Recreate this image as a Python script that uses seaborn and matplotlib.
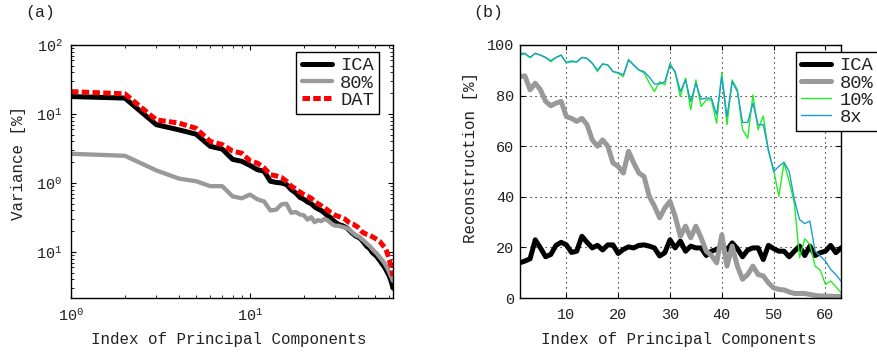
import numpy as np
import pandas as pd
import matplotlib
matplotlib.use("Agg")
import matplotlib.pyplot as plt
import seaborn as sns

# ---------------- data ----------------
component_index = list(range(1, 64))

# panel (a): variance [%] per principal component
var_ica = [17.9, 17.0, 7.0, 5.9, 5.1, 3.4, 3.1, 2.2, 2.06, 1.8,
           1.56, 1.48, 1.06, 1.02, 1.0, 0.95, 0.80, 0.72, 0.62, 0.58,
           0.53, 0.50, 0.45, 0.42, 0.40, 0.37, 0.34, 0.32, 0.29, 0.27,
           0.255, 0.245, 0.24, 0.23, 0.22, 0.205, 0.19, 0.18, 0.17, 0.165,
           0.16, 0.15, 0.14, 0.13, 0.12, 0.115, 0.11, 0.10, 0.095, 0.091,
           0.087, 0.081, 0.076, 0.071, 0.066, 0.062, 0.058, 0.053, 0.049, 0.045,
           0.040, 0.035, 0.030]
var_80 = [2.65, 2.48, 1.52, 1.16, 1.06, 0.90, 0.90, 0.64, 0.60, 0.68,
          0.58, 0.54, 0.40, 0.41, 0.49, 0.50, 0.37, 0.38, 0.35, 0.34,
          0.295, 0.32, 0.27, 0.29, 0.28, 0.30, 0.29, 0.27, 0.25, 0.24,
          0.24, 0.235, 0.23, 0.225, 0.22, 0.21, 0.195, 0.185, 0.175, 0.17,
          0.165, 0.155, 0.148, 0.14, 0.132, 0.126, 0.12, 0.112, 0.106, 0.10,
          0.096, 0.09, 0.085, 0.08, 0.075, 0.071, 0.066, 0.061, 0.056, 0.051,
          0.046, 0.042, 0.038]
var_dat = [21.1, 19.6, 8.2, 7.4, 6.2, 4.0, 3.6, 2.9, 2.7, 2.1,
           1.94, 1.65, 1.32, 1.27, 1.2, 1.06, 0.90, 0.82, 0.74, 0.68,
           0.64, 0.60, 0.54, 0.50, 0.47, 0.44, 0.41, 0.38, 0.36, 0.34,
           0.33, 0.32, 0.31, 0.30, 0.28, 0.265, 0.255, 0.25, 0.24, 0.23,
           0.215, 0.20, 0.19, 0.185, 0.18, 0.177, 0.173, 0.168, 0.163, 0.158,
           0.153, 0.148, 0.143, 0.135, 0.127, 0.12, 0.114, 0.103, 0.09, 0.077,
           0.066, 0.055, 0.045]

# panel (b): reconstruction [%]
rec_ica = [13.9, 14.6, 15.5, 23.0, 19.8, 16.3, 17.2, 20.8, 22.0, 21.0,
           18.0, 18.5, 24.4, 22.0, 19.8, 20.8, 19.0, 21.0, 21.0, 17.6,
           19.2, 20.2, 19.8, 20.8, 21.0, 20.5, 19.8, 16.6, 17.9, 23.0,
           19.8, 22.5, 18.5, 20.5, 19.8, 19.8, 16.8, 18.5, 19.2, 20.5,
           19.0, 21.8, 19.5, 16.3, 19.0, 19.8, 19.8, 15.2, 20.8, 19.5,
           18.5, 18.5, 16.3, 18.5, 20.5, 16.8, 20.5, 16.8, 17.9, 18.5,
           20.8, 17.9, 19.8]
rec_80 = [87.5, 87.8, 82.3, 84.9, 82.3, 77.7, 76.0, 77.0, 77.7, 71.7,
          71.0, 69.8, 71.0, 68.5, 62.5, 60.0, 62.5, 60.0, 53.4, 52.0,
          49.4, 58.0, 53.4, 49.4, 48.0, 40.2, 36.3, 31.7, 35.6, 38.2,
          32.3, 24.4, 28.4, 23.8, 28.4, 23.8, 18.5, 16.8, 13.9, 25.0,
          12.6, 20.5, 12.6, 7.4, 9.3, 12.6, 9.3, 8.7, 6.0, 4.0,
          3.4, 3.2, 2.4, 1.8, 1.8, 1.8, 1.4, 1.0, 0.8, 0.8,
          0.7, 0.6, 0.6]
rec_10 = [96.0, 96.5, 95.0, 96.7, 96.0, 95.0, 93.4, 95.0, 96.0, 93.0,
          93.8, 93.3, 95.1, 94.7, 92.8, 89.5, 92.5, 92.1, 89.5, 88.8,
          87.5, 94.3, 92.1, 90.1, 89.0, 85.0, 81.6, 85.5, 84.2, 92.8,
          89.0, 79.6, 86.9, 74.4, 86.2, 75.7, 78.3, 78.3, 69.1, 89.1,
          68.5, 86.2, 82.3, 66.5, 63.2, 80.3, 66.5, 72.0, 58.0, 50.7,
          40.2, 53.4, 46.1, 37.6, 15.9, 23.4, 21.2, 12.6, 11.0, 5.4,
          6.7, 4.5, 2.1]
rec_8x = [96.7, 96.7, 95.1, 96.7, 96.0, 95.1, 93.8, 95.1, 96.0, 93.0,
          93.4, 93.3, 95.1, 94.7, 92.8, 90.1, 92.5, 92.1, 89.5, 89.1,
          88.2, 94.0, 92.1, 90.1, 89.5, 87.3, 84.6, 84.6, 85.5, 92.1,
          89.5, 81.6, 86.2, 77.7, 84.9, 78.6, 79.0, 79.0, 72.4, 87.5,
          71.7, 85.5, 81.6, 69.4, 69.4, 77.0, 68.5, 68.5, 58.6, 50.0,
          52.0, 53.7, 50.0, 38.9, 31.0, 29.4, 30.4, 18.5, 16.6, 14.6,
          11.3, 9.3, 6.7]

left_yticks = [100, 10, 1, 0.1]
left_yticklabels = ["$10^{2}$", "$10^{1}$", "$10^{0}$", "$10^{1}$"]
left_xticks = [1, 10]
left_xticklabels = ["$10^{0}$", "$10^{1}$"]
right_xticks = [10, 20, 30, 40, 50, 60]
right_yticks = [0, 20, 40, 60, 80, 100]

# ---------------- style ----------------
sns.set_style("ticks")
TXT = "#222222"
plt.rcParams.update({
    "font.family": ["Liberation Mono", "DejaVu Sans"],
    "mathtext.fontset": "custom",
    "mathtext.rm": "Liberation Mono",
    "mathtext.it": "Liberation Mono",
    "mathtext.bf": "Liberation Mono",
    "xtick.direction": "in",
    "ytick.direction": "in",
    "xtick.top": True,
    "ytick.right": True,
    "xtick.major.size": 3.5,
    "ytick.major.size": 3.5,
    "xtick.minor.size": 2,
    "ytick.minor.size": 2,
    "xtick.major.width": 0.8,
    "ytick.major.width": 0.8,
    "axes.edgecolor": "black",
    "axes.linewidth": 1.0,
    "text.color": TXT,
    "axes.labelcolor": TXT,
    "xtick.labelcolor": TXT,
    "ytick.labelcolor": TXT,
    "xtick.color": "black",
    "ytick.color": "black",
})

fig = plt.figure(figsize=(8.78, 3.54), dpi=100)
ax1 = fig.add_axes([71 / 878, 1 - 298 / 354, 322 / 878, 253 / 354])
ax2 = fig.add_axes([519.7 / 878, 1 - 298 / 354, 321.3 / 878, 253 / 354])

df_a = pd.DataFrame({"idx": component_index, "ICA": var_ica,
                     "80%": var_80, "DAT": var_dat})
df_b = pd.DataFrame({"idx": component_index, "ICA": rec_ica, "80%": rec_80,
                     "10%": rec_10, "8x": rec_8x})

LEG = dict(borderaxespad=0, fontsize=13.5, frameon=True, fancybox=False,
           framealpha=1, edgecolor="black", handlelength=1.6,
           handletextpad=0.45, labelspacing=0.0, borderpad=0.28)

# ---- panel (a)
sns.lineplot(data=df_a, x="idx", y="ICA", ax=ax1, color="black",
             linewidth=3.6, label="ICA", solid_joinstyle="round")
sns.lineplot(data=df_a, x="idx", y="80%", ax=ax1, color="#999999",
             linewidth=3.1, label="80%", solid_joinstyle="round")
sns.lineplot(data=df_a, x="idx", y="DAT", ax=ax1, color="#ff0000",
             linewidth=3.6, label="DAT", linestyle=(0, (1.5, 0.65)),
             dash_capstyle="butt")
ax1.set_xscale("log")
ax1.set_yscale("log")
ax1.set_xlim(1, 63)
ax1.set_ylim(10 ** -1.667, 100)
ax1.set_xticks(left_xticks)
ax1.set_xticklabels(left_xticklabels)
ax1.set_yticks(left_yticks)
ax1.set_yticklabels(left_yticklabels)
ax1.tick_params(axis="both", which="major", labelsize=11)
ax1.tick_params(axis="x", pad=7)
ax1.tick_params(axis="y", pad=6)
ax1.set_xlabel("Index of Principal Components", fontsize=11.4)
ax1.set_ylabel("Variance [%]", fontsize=11.4)
ax1.xaxis.set_label_coords(0.49, (298 - 344) / 253)
ax1.xaxis.label.set_va("baseline")
ax1.yaxis.label.set_va("center")
ax1.yaxis.set_label_coords((18.5 - 71) / 322, (298 - 163) / 253)
leg1 = ax1.legend(loc="upper right",
                  bbox_to_anchor=((379 - 71) / 322, (298 - 52) / 253), **LEG)
leg1.get_frame().set_linewidth(1.0)

# ---- panel (b)
sns.lineplot(data=df_b, x="idx", y="ICA", ax=ax2, color="black",
             linewidth=3.6, label="ICA", solid_joinstyle="round")
sns.lineplot(data=df_b, x="idx", y="80%", ax=ax2, color="#999999",
             linewidth=3.6, label="80%", solid_joinstyle="round")
sns.lineplot(data=df_b, x="idx", y="10%", ax=ax2, color="#22ee22",
             linewidth=1.0, label="10%")
sns.lineplot(data=df_b, x="idx", y="8x", ax=ax2, color="#1a9fcf",
             linewidth=1.0, label="8x")
ax2.set_xlim(1, 63)
ax2.set_ylim(0, 100)
ax2.set_xticks(right_xticks)
ax2.set_yticks(right_yticks)
ax2.grid(True, color="black", linestyle=(0, (1, 3.5)), linewidth=0.8)
ax2.tick_params(axis="both", which="major", labelsize=11)
ax2.tick_params(axis="x", pad=7)
ax2.tick_params(axis="y", pad=4)
ax2.set_xlabel("Index of Principal Components", fontsize=11.4)
ax2.set_ylabel("Reconstruction [%]", fontsize=11.4)
ax2.xaxis.set_label_coords(0.494, (298 - 344) / 253)
ax2.xaxis.label.set_va("baseline")
ax2.yaxis.label.set_va("center")
ax2.yaxis.set_label_coords((470.5 - 519.7) / 321.3, (298 - 157.5) / 253)
leg2 = ax2.legend(loc="upper left",
                  bbox_to_anchor=((795.7 - 519.7) / 321.3, (298 - 52) / 253),
                  **LEG)
leg2.get_frame().set_linewidth(1.0)
leg2.set_clip_on(False)

fig.text(25 / 878, 1 - 17 / 354, "(a)", fontsize=12, va="baseline", ha="left")
fig.text(473 / 878, 1 - 17 / 354, "(b)", fontsize=12, va="baseline", ha="left")

fig.savefig("out.png", dpi=100)
